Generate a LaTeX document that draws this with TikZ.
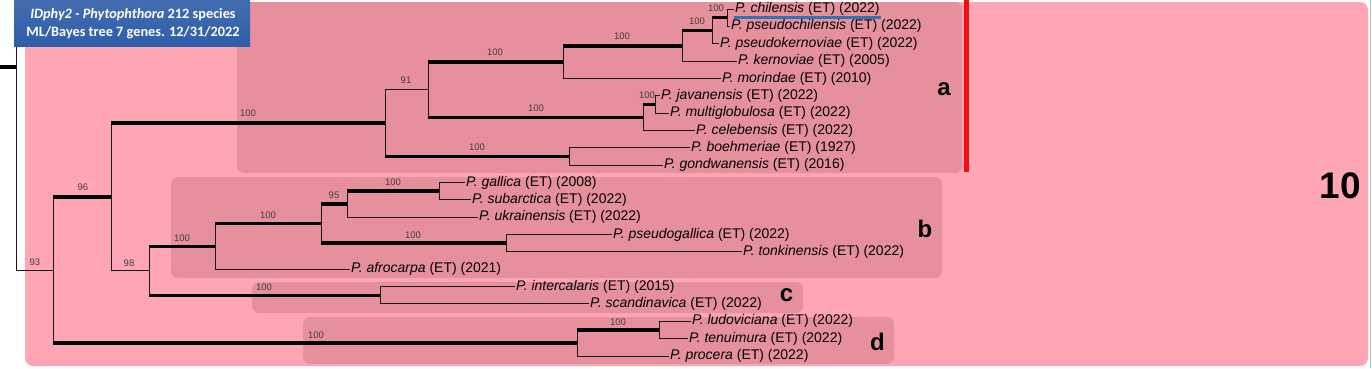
\documentclass[tikz,border=0pt]{standalone}
\usepackage{fontspec}
\setmainfont{Liberation Sans}
\newfontfamily\titlefont{Carlito}
\definecolor{outerpink}{HTML}{FFA6B5}
\definecolor{cladepink}{HTML}{E6909E}
\definecolor{titleblue}{HTML}{2F5DA8}
\definecolor{ulblue}{HTML}{2E75B6}
\definecolor{barred}{HTML}{EE1111}
\tikzset{
 br/.style={line width=1pt, draw=black!90},
 bk/.style={line width=3.5pt, draw=black},
 tip/.style={anchor=west, inner sep=1pt, font=\fontsize{14}{16}\selectfont},
 sup/.style={inner sep=0pt, font=\fontsize{9.5}{10}\selectfont, text=black!75},
 cladebox/.style={fill=cladepink, rounded corners=7pt},
 letter/.style={font=\bfseries\fontsize{24}{26}\selectfont, anchor=base, inner sep=0pt},
}
\begin{document}
\begin{tikzpicture}[x=1pt,y=-1pt]
\useasboundingbox (0,0) rectangle (1372,368);
\fill[white] (0,0) rectangle (1372,368);
% backgrounds
\fill[outerpink, rounded corners=8pt] (25,2) rectangle (1368,366);
\draw[gray!50, line width=0.8pt] (1370.5,0) -- (1370.5,368);
\fill[cladebox] (237,2) rectangle (962,173);
\fill[cladebox] (171,177) rectangle (942,278);
\fill[cladebox] (252,282) rectangle (803,313);
\fill[cladebox] (303,317) rectangle (894,364);
\fill[barred] (963.5,0) rectangle (968.5,172);
% clade letters
\node[letter] (la) at (944,95) {a};
\node[letter] (lb) at (925,237) {b};
\node[letter] (lc) at (786.5,301.5) {c};
\node[letter] (ld) at (877.5,350) {d};
\node[font=\bfseries\fontsize{37}{40}\selectfont, anchor=base, inner sep=0pt] (l10) at (1340,198.5) {10};
% tips
\node[tip] (t0) at (734,9) {\textit{P. chilensis} (ET) (2022)};
\node[tip] (t1) at (730,26.35) {\textit{P. pseudochilensis} (ET) (2022)};
\node[tip] (t2) at (719,43.7) {\textit{P. pseudokernoviae} (ET) (2022)};
\node[tip] (t3) at (737,61.05) {\textit{P. kernoviae} (ET) (2005)};
\node[tip] (t4) at (721,78.4) {\textit{P. morindae} (ET) (2010)};
\node[tip] (t5) at (660,95.75) {\textit{P. javanensis} (ET) (2022)};
\node[tip] (t6) at (669,113.1) {\textit{P. multiglobulosa} (ET) (2022)};
\node[tip] (t7) at (695,130.45) {\textit{P. celebensis} (ET) (2022)};
\node[tip] (t8) at (690,147.8) {\textit{P. boehmeriae} (ET) (1927)};
\node[tip] (t9) at (663,165.15) {\textit{P. gondwanensis} (ET) (2016)};
\node[tip] (t10) at (465,182.5) {\textit{P. gallica} (ET) (2008)};
\node[tip] (t11) at (471,199.85) {\textit{P. subarctica} (ET) (2022)};
\node[tip] (t12) at (478,217.2) {\textit{P. ukrainensis} (ET) (2022)};
\node[tip] (t13) at (612,234.55) {\textit{P. pseudogallica} (ET) (2022)};
\node[tip] (t14) at (742,251.9) {\textit{P. tonkinensis} (ET) (2022)};
\node[tip] (t15) at (350,269.25) {\textit{P. afrocarpa} (ET) (2021)};
\node[tip] (t16) at (515,286.6) {\textit{P. intercalaris} (ET) (2015)};
\node[tip] (t17) at (589,303.95) {\textit{P. scandinavica} (ET) (2022)};
\node[tip] (t18) at (691,321.3) {\textit{P. ludoviciana} (ET) (2022)};
\node[tip] (t19) at (688,338.65) {\textit{P. tenuimura} (ET) (2022)};
\node[tip] (t20) at (669,356) {\textit{P. procera} (ET) (2022)};
\draw[ulblue, line width=3pt] ([yshift=-1pt]t0.south west) -- ([yshift=-1pt]t0.south east);
% internal nodes
\coordinate (a1) at (727,17.675);
\coordinate (a2) at (712,30.69);
\coordinate (a3) at (682,45.87);
\coordinate (a4) at (563,62.13);
\coordinate (a5) at (655,104.43);
\coordinate (a6) at (643,117.44);
\coordinate (a7) at (428,89.79);
\coordinate (a8) at (569,156.48);
\coordinate (a9) at (385,123.13);
\coordinate (b1) at (439,191.18);
\coordinate (b2) at (347,204.19);
\coordinate (b3) at (506,243.23);
\coordinate (b4) at (321,223.71);
\coordinate (b5) at (215,246.48);
\coordinate (c1) at (380,295.28);
\coordinate (b6) at (149,270.88);
\coordinate (r2) at (111,197.0);
\coordinate (d1) at (659,329.98);
\coordinate (d2) at (577,342.99);
\coordinate (r1) at (53,270.0);
\coordinate (r0) at (16,270.0);
\coordinate (r0top) at (16,40);
\coordinate (rin) at (0,67);
% verticals
\draw[br] (a1 |- t0) -- (a1 |- t1);
\draw[br] (a2 |- a1) -- (a2 |- t2);
\draw[br] (a3 |- a2) -- (a3 |- t3);
\draw[br] (a4 |- a3) -- (a4 |- t4);
\draw[br] (a5 |- t5) -- (a5 |- t6);
\draw[br] (a6 |- a5) -- (a6 |- t7);
\draw[br] (a7 |- a4) -- (a7 |- a6);
\draw[br] (a8 |- t8) -- (a8 |- t9);
\draw[br] (a9 |- a7) -- (a9 |- a8);
\draw[br] (b1 |- t10) -- (b1 |- t11);
\draw[br] (b2 |- b1) -- (b2 |- t12);
\draw[br] (b3 |- t13) -- (b3 |- t14);
\draw[br] (b4 |- b2) -- (b4 |- b3);
\draw[br] (b5 |- b4) -- (b5 |- t15);
\draw[br] (c1 |- t16) -- (c1 |- t17);
\draw[br] (b6 |- b5) -- (b6 |- c1);
\draw[br] (r2 |- a9) -- (r2 |- b6);
\draw[br] (d1 |- t18) -- (d1 |- t19);
\draw[br] (d2 |- d1) -- (d2 |- t20);
\draw[br] (r1 |- r2) -- (r1 |- d2);
\draw[br] (r0top) -- (r0);
% horizontals
\draw[br] (a1 |- t0) -- (t0.west);
\draw[br] (a1 |- t1) -- (t1.west);
\draw[bk] (a2 |- a1) -- (a1);
\draw[br] (a2 |- t2) -- (t2.west);
\draw[bk] (a3 |- a2) -- (a2);
\draw[br] (a3 |- t3) -- (t3.west);
\draw[bk] (a4 |- a3) -- (a3);
\draw[br] (a4 |- t4) -- (t4.west);
\draw[br] (a5 |- t5) -- (t5.west);
\draw[br] (a5 |- t6) -- (t6.west);
\draw[bk] (a6 |- a5) -- (a5);
\draw[br] (a6 |- t7) -- (t7.west);
\draw[bk] (a7 |- a4) -- (a4);
\draw[bk] (a7 |- a6) -- (a6);
\draw[br] (a8 |- t8) -- (t8.west);
\draw[br] (a8 |- t9) -- (t9.west);
\draw[br] (a9 |- a7) -- (a7);
\draw[bk] (a9 |- a8) -- (a8);
\draw[br] (b1 |- t10) -- (t10.west);
\draw[br] (b1 |- t11) -- (t11.west);
\draw[bk] (b2 |- b1) -- (b1);
\draw[br] (b2 |- t12) -- (t12.west);
\draw[br] (b3 |- t13) -- (t13.west);
\draw[br] (b3 |- t14) -- (t14.west);
\draw[bk] (b4 |- b2) -- (b2);
\draw[bk] (b4 |- b3) -- (b3);
\draw[bk] (b5 |- b4) -- (b4);
\draw[br] (b5 |- t15) -- (t15.west);
\draw[br] (c1 |- t16) -- (t16.west);
\draw[br] (c1 |- t17) -- (t17.west);
\draw[bk] (b6 |- b5) -- (b5);
\draw[bk] (b6 |- c1) -- (c1);
\draw[bk] (r2 |- a9) -- (a9);
\draw[br] (r2 |- b6) -- (b6);
\draw[br] (d1 |- t18) -- (t18.west);
\draw[br] (d1 |- t19) -- (t19.west);
\draw[bk] (d2 |- d1) -- (d1);
\draw[br] (d2 |- t20) -- (t20.west);
\draw[bk] (r1 |- r2) -- (r2);
\draw[bk] (r1 |- d2) -- (d2);
\draw[br] (r0) -- (r1);
\draw[bk] (rin) -- (rin -| r0);
% support values
\node[sup] (s1) at (35,262) {93};
\node[sup] (s2) at (83,187) {96};
\node[sup] (s3) at (248,113) {100};
\node[sup] (s4) at (406,80) {91};
\node[sup] (s5) at (495,52) {100};
\node[sup] (s6) at (622,36) {100};
\node[sup] (s7) at (697,21) {100};
\node[sup] (s8) at (716,8) {100};
\node[sup] (s9) at (536,108) {100};
\node[sup] (s10) at (647,95) {100};
\node[sup] (s11) at (477,147) {100};
\node[sup] (s12) at (129,263) {98};
\node[sup] (s13) at (182,238) {100};
\node[sup] (s14) at (268,215) {100};
\node[sup] (s15) at (334,195) {95};
\node[sup] (s16) at (393,182) {100};
\node[sup] (s17) at (413,235) {100};
\node[sup] (s18) at (264,287) {100};
\node[sup] (s19) at (316,335) {100};
\node[sup] (s20) at (618,322) {100};
% title box
\shade[top color=titleblue!90!white, bottom color=titleblue] (14,0) rectangle (250,46);
\node[text=white, font=\titlefont\bfseries\fontsize{14.3}{18}\selectfont, align=center, inner sep=0pt] (title) at (133,24) {\textit{IDphy2 - Phytophthora} 212 species\\ML/Bayes tree 7 genes. 12/31/2022};
\end{tikzpicture}
\end{document}
